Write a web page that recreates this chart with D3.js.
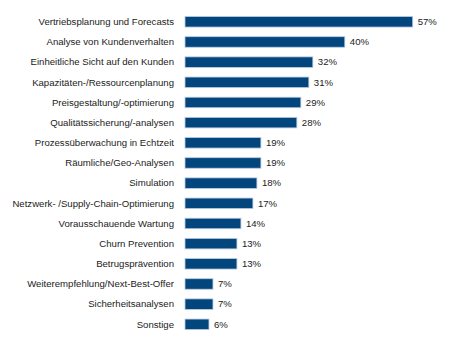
<!DOCTYPE html>
<html>
<head>
<meta charset="utf-8">
<script src="https://cdn.jsdelivr.net/npm/d3@7"></script>
<style>
  html, body { margin: 0; padding: 0; background: #fff; }
  svg { display: block; }
  text { font-family: "Liberation Sans", Arial, sans-serif; fill: #222; }
</style>
</head>
<body>
<svg id="chart" width="459" height="337"></svg>
<script>
// Einsatzbereiche – Anteil der Nennungen in Prozent
const categories = [
  "Vertriebsplanung und Forecasts",
  "Analyse von Kundenverhalten",
  "Einheitliche Sicht auf den Kunden",
  "Kapazitäten-/Ressourcenplanung",
  "Preisgestaltung/-optimierung",
  "Qualitätssicherung/-analysen",
  "Prozessüberwachung in Echtzeit",
  "Räumliche/Geo-Analysen",
  "Simulation",
  "Netzwerk- /Supply-Chain-Optimierung",
  "Vorausschauende Wartung",
  "Churn Prevention",
  "Betrugsprävention",
  "Weiterempfehlung/Next-Best-Offer",
  "Sicherheitsanalysen",
  "Sonstige"
];
const values = [57, 40, 32, 31, 29, 28, 19, 19, 18, 17, 14, 13, 13, 7, 7, 6];

const svg = d3.select("#chart");

const x = d3.scaleLinear().domain([0, 60]).range([185, 424.7]);
const y = d3.scalePoint().domain(categories).range([21.8, 324.3]);
const barH = 10.5;

const rows = svg.selectAll("g.row")
  .data(categories.map((c, i) => ({ c, v: values[i] })))
  .join("g")
  .attr("class", "row");

rows.append("rect")
  .attr("x", x(0))
  .attr("y", d => y(d.c) - barH / 2)
  .attr("width", d => x(d.v) - x(0))
  .attr("height", barH)
  .attr("fill", "#03457d")
  .attr("stroke", "#b9cbe0")
  .attr("stroke-width", 0.8);

rows.append("text")
  .attr("x", x(0) - 11)
  .attr("y", d => y(d.c))
  .attr("dy", "0.35em")
  .attr("text-anchor", "end")
  .attr("font-size", "9.6px")
  .text(d => d.c);

rows.append("text")
  .attr("x", d => x(d.v) + 5)
  .attr("y", d => y(d.c))
  .attr("dy", "0.35em")
  .attr("font-size", "9.6px")
  .text(d => d.v + "%");
</script>
</body>
</html>
